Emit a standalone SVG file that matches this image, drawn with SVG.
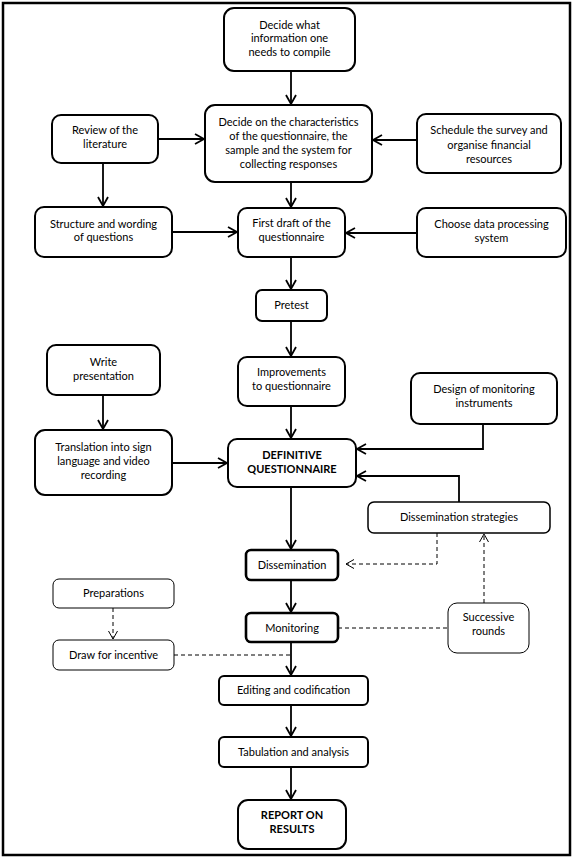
<svg xmlns="http://www.w3.org/2000/svg" width="576" height="858" viewBox="0 0 576 858">
<defs>
<style>
.n{fill:#fff;stroke:#000;stroke-width:2}
.thin{fill:#fff;stroke:#000;stroke-width:1}
.mid{fill:#fff;stroke:#000;stroke-width:1.5}
.thick{fill:#fff;stroke:#000;stroke-width:2.6}
text{font-family:Lato,"Liberation Sans",sans-serif;font-size:11px;fill:#000;text-anchor:middle}
.b{font-weight:bold}
.c{fill:none;stroke:#000;stroke-width:1.8}
.d{fill:none;stroke:#000;stroke-width:1;stroke-dasharray:4 3}
</style>
<marker id="ah" markerUnits="userSpaceOnUse" markerWidth="12" markerHeight="12" viewBox="0 0 12 12" refX="10" refY="6" orient="auto">
<path d="M1,1 L10,6 L1,11" fill="none" stroke="#000" stroke-width="1.8"/>
</marker>
<marker id="ahd" markerUnits="userSpaceOnUse" markerWidth="12" markerHeight="12" viewBox="0 0 12 12" refX="10" refY="6" orient="auto">
<path d="M2,1.5 L10,6 L2,10.5" fill="none" stroke="#000" stroke-width="1"/>
</marker>
</defs>
<rect x="3" y="3" width="567" height="852" fill="#fff" stroke="#000" stroke-width="2.5"/>
<g id="connectors">
<path class="c" d="M291,71 V104" marker-end="url(#ah)"/>
<path class="c" d="M158,139 H204" marker-end="url(#ah)"/>
<path class="c" d="M417,140 H373" marker-end="url(#ah)"/>
<path class="c" d="M103,163 V206" marker-end="url(#ah)"/>
<path class="c" d="M291,182 V207" marker-end="url(#ah)"/>
<path class="c" d="M172,232 H237" marker-end="url(#ah)"/>
<path class="c" d="M417,233 H346" marker-end="url(#ah)"/>
<path class="c" d="M291,257 V289" marker-end="url(#ah)"/>
<path class="c" d="M291,321 V356" marker-end="url(#ah)"/>
<path class="c" d="M103,395 V429" marker-end="url(#ah)"/>
<path class="c" d="M291,406 V438" marker-end="url(#ah)"/>
<path class="c" d="M172,463 H227" marker-end="url(#ah)"/>
<path class="c" d="M483,424 V449 H357" marker-end="url(#ah)"/>
<path class="c" d="M459,502 V476 H357" marker-end="url(#ah)"/>
<path class="c" d="M291,487 V549" marker-end="url(#ah)"/>
<path class="d" d="M437,533 V564 H346" marker-end="url(#ahd)"/>
<path class="d" d="M484,603 V534" marker-end="url(#ahd)"/>
<path class="c" d="M291,580 V612" marker-end="url(#ah)"/>
<path class="d" d="M338,628 H448"/>
<path class="d" d="M113,608 V639" marker-end="url(#ahd)"/>
<path class="d" d="M174,655 H291"/>
<path class="c" d="M291,642 V675" marker-end="url(#ah)"/>
<path class="c" d="M291,705 V736" marker-end="url(#ah)"/>
<path class="c" d="M291,767 V799" marker-end="url(#ah)"/>
</g>
<g id="n1"><rect class="n" x="224" y="8" width="131" height="63" rx="10"/>
<text x="289.5" y="29">Decide what</text><text x="289.5" y="42">information one</text><text x="289.5" y="56">needs to compile</text></g>
<g id="n2"><rect class="n" x="205" y="105" width="167" height="77" rx="10"/>
<text x="288.5" y="126">Decide on the characteristics</text><text x="288.5" y="140">of the questionnaire, the</text><text x="288.5" y="154">sample and the system for</text><text x="288.5" y="168">collecting responses</text></g>
<g id="n3"><rect class="n" x="52" y="115" width="106" height="48" rx="9"/>
<text x="105" y="134">Review of the</text><text x="105" y="148">literature</text></g>
<g id="n4"><rect class="n" x="417" y="114" width="144" height="59" rx="9"/>
<text x="489" y="134">Schedule the survey and</text><text x="489" y="149">organise financial</text><text x="489" y="163">resources</text></g>
<g id="n5"><rect class="n" x="35" y="207" width="137" height="50" rx="9"/>
<text x="103.5" y="228">Structure and wording</text><text x="103.5" y="241">of questions</text></g>
<g id="n6"><rect class="n" x="238" y="208" width="107" height="49" rx="9"/>
<text x="291.5" y="227">First draft of the</text><text x="291.5" y="241">questionnaire</text></g>
<g id="n7"><rect class="n" x="417" y="208" width="149" height="49" rx="9"/>
<text x="491.5" y="228">Choose data processing</text><text x="491.5" y="242">system</text></g>
<g id="n8"><rect class="n" x="256" y="290" width="71" height="31" rx="6"/>
<text x="291.5" y="309">Pretest</text></g>
<g id="n9"><rect class="n" x="47" y="345" width="113" height="50" rx="9"/>
<text x="103.5" y="366">Write</text><text x="103.5" y="380">presentation</text></g>
<g id="n10"><rect class="n" x="238" y="357" width="107" height="49" rx="9"/>
<text x="291.5" y="376">Improvements</text><text x="291.5" y="390">to questionnaire</text></g>
<g id="n11"><rect class="n" x="411" y="373" width="146" height="51" rx="9"/>
<text x="484" y="393">Design of monitoring</text><text x="484" y="407">instruments</text></g>
<g id="n12"><rect class="n" x="35" y="430" width="137" height="65" rx="10"/>
<text x="103.5" y="451">Translation into sign</text><text x="103.5" y="465">language and video</text><text x="103.5" y="479">recording</text></g>
<g id="n13"><rect class="n" x="228" y="439" width="128" height="48" rx="9"/>
<text class="b" x="292" y="459">DEFINITIVE</text><text class="b" x="292" y="473">QUESTIONNAIRE</text></g>
<g id="n14"><rect class="mid" x="368" y="502" width="182" height="31" rx="6"/>
<text x="459" y="521">Dissemination strategies</text></g>
<g id="n15"><rect class="thick" x="246" y="550" width="92" height="30" rx="5"/>
<text x="292" y="569">Dissemination</text></g>
<g id="n16"><rect class="thin" x="53" y="579" width="121" height="29" rx="6"/>
<text x="113.5" y="597">Preparations</text></g>
<g id="n17"><rect class="thick" x="246" y="613" width="92" height="29" rx="5"/>
<text x="292" y="632">Monitoring</text></g>
<g id="n18"><rect class="thin" x="448" y="603" width="81" height="50" rx="9"/>
<text x="488.5" y="621">Successive</text><text x="488.5" y="635">rounds</text></g>
<g id="n19"><rect class="thin" x="53" y="640" width="121" height="30" rx="6"/>
<text x="113.5" y="659">Draw for incentive</text></g>
<g id="n20"><rect class="n" x="219" y="676" width="149" height="29" rx="5"/>
<text x="293.5" y="694">Editing and codification</text></g>
<g id="n21"><rect class="n" x="219" y="737" width="149" height="30" rx="5"/>
<text x="293.5" y="756">Tabulation and analysis</text></g>
<g id="n22"><rect class="n" x="238" y="800" width="108" height="49" rx="10"/>
<text class="b" x="292" y="819">REPORT ON</text><text class="b" x="292" y="833">RESULTS</text></g>
</svg>
